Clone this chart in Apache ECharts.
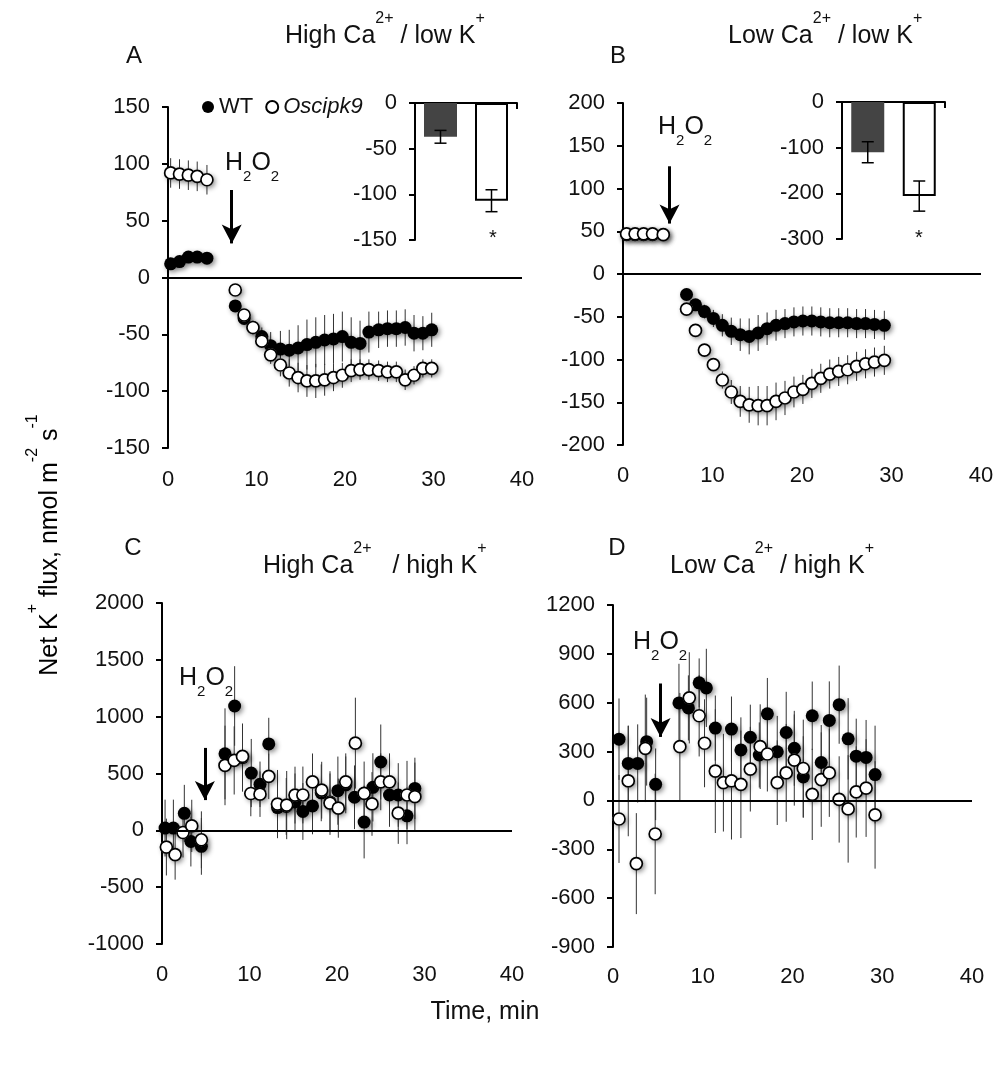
<!DOCTYPE html>
<html>
<head>
<meta charset="utf-8">
<script src="https://cdn.jsdelivr.net/npm/echarts@6/dist/echarts.min.js"></script>
<style>
  html, body { margin: 0; padding: 0; background: #fff; }
  #chart { width: 1008px; height: 1071px; }
</style>
</head>
<body>
<div id="chart"></div>
<script>
// panel A: high Ca2+ / low K+
const aTime = [0.3, 1.3, 2.3, 3.3, 4.4, 7.6, 8.6, 9.6, 10.6, 11.6, 12.7, 13.7, 14.7, 15.7, 16.7, 17.7, 18.7, 19.7, 20.7, 21.7, 22.7, 23.8, 24.8, 25.8, 26.8, 27.8, 28.8, 29.8]
const aWT = [12, 14, 18, 18, 17, -25, -36, -44, -52, -60, -63, -64, -62, -59, -57, -55, -54, -52, -57, -58, -48, -46, -45, -45, -44, -49, -49, -46]
const aWTErr = [4, 4, 4, 4, 4, 3, 4, 6, 8, 12, 16, 18, 20, 22, 22, 22, 22, 22, 22, 20, 18, 16, 16, 16, 16, 16, 15, 15]
const aMut = [92, 91, 90, 89, 86, -11, -33, -44, -56, -68, -77, -84, -88, -91, -91, -90, -88, -86, -82, -81, -81, -82, -83, -83, -90, -86, -80, -80]
const aMutErr = [13, 13, 13, 13, 13, 3, 4, 5, 6, 8, 10, 12, 13, 14, 15, 14, 12, 11, 10, 9, 9, 9, 9, 9, 9, 8, 8, 8]

// panel B: low Ca2+ / low K+
const bTime = [0.4, 1.35, 2.3, 3.3, 4.5, 7.1, 8.1, 9.1, 10.1, 11.1, 12.1, 13.1, 14.1, 15.1, 16.1, 17.1, 18.1, 19.1, 20.1, 21.1, 22.1, 23.1, 24.1, 25.1, 26.1, 27.1, 28.1, 29.2]
const bWT = [46, 46, 46, 46, 46, -24, -36, -44, -52, -60, -67, -71, -73, -69, -64, -60, -58, -56, -55, -55, -56, -57, -57, -57, -58, -58, -59, -60]
const bWTErr = [4, 4, 4, 4, 4, 4, 6, 8, 10, 13, 16, 19, 21, 21, 19, 18, 17, 17, 17, 17, 17, 17, 17, 17, 17, 17, 17, 17]
const bMut = [47, 47, 47, 47, 46, -41, -66, -89, -106, -124, -138, -149, -153, -154, -154, -149, -145, -138, -135, -128, -122, -117, -114, -112, -108, -105, -103, -101]
const bMutErr = [4, 4, 4, 4, 4, 3, 4, 5, 7, 10, 14, 18, 21, 23, 23, 22, 20, 18, 17, 17, 17, 17, 17, 17, 17, 17, 17, 17]

// panel C: high Ca2+ / high K+
const cTimeWT = [0.35, 1.3, 2.55, 3.3, 4.5, 7.2, 8.3, 9.2, 10.2, 11.2, 12.2, 13.2, 14.2, 15.2, 16.1, 17.2, 18.2, 19.2, 20.1, 21.0, 22.0, 23.1, 24.1, 25.0, 26.0, 27.0, 28.0, 28.9]
const cWT = [20, 20, 150, -98, -141, 673, 1094, 640, 504, 405, 760, 200, 210, 250, 166, 215, 330, 250, 349, 400, 291, 73, 378, 601, 311, 311, 128, 369]
const cWTErr = [250, 250, 250, 220, 250, 400, 350, 300, 300, 200, 230, 250, 250, 250, 250, 250, 250, 250, 300, 250, 280, 320, 300, 330, 280, 280, 250, 270]
const cTimeMut = [0.5, 1.5, 2.4, 3.4, 4.5, 7.2, 8.25, 9.2, 10.15, 11.2, 12.2, 13.2, 14.25, 15.2, 16.1, 17.2, 18.25, 19.2, 20.15, 21.0, 22.1, 23.1, 24.0, 25.0, 26.0, 27.0, 28.0, 28.9]
const cMut = [-147, -214, -19, 39, -83, 571, 615, 650, 324, 318, 475, 231, 222, 310, 311, 426, 353, 240, 195, 427, 767, 325, 232, 427, 427, 151, 311, 296]
const cMutErr = [250, 220, 220, 230, 250, 350, 300, 250, 200, 200, 200, 300, 300, 250, 250, 250, 250, 280, 260, 250, 400, 280, 280, 250, 250, 270, 300, 300]

// panel D: low Ca2+ / high K+
const dTimeWT = [0.67, 1.7, 2.75, 3.75, 4.75, 7.35, 8.4, 9.6, 10.4, 11.4, 13.2, 14.25, 15.3, 16.3, 17.2, 18.3, 19.3, 20.2, 21.2, 22.2, 23.2, 24.1, 25.2, 26.2, 27.1, 28.2, 29.2]
const dWT = [376, 227, 227, 361, 99, 599, 568, 722, 691, 444, 438, 310, 388, 279, 532, 299, 417, 320, 144, 520, 233, 491, 588, 378, 272, 264, 159]
const dWTErr = [250, 230, 240, 270, 220, 240, 200, 150, 240, 200, 200, 200, 200, 200, 220, 220, 250, 230, 250, 210, 230, 240, 240, 250, 230, 230, 300]
const dTimeMut = [0.67, 1.7, 2.6, 3.6, 4.7, 7.45, 8.5, 9.6, 10.2, 11.4, 12.3, 13.2, 14.25, 15.3, 16.4, 17.2, 18.3, 19.3, 20.2, 21.2, 22.2, 23.2, 24.1, 25.2, 26.2, 27.1, 28.2, 29.2]
const dMut = [-114, 120, -388, 320, -206, 330, 630, 520, 351, 180, 109, 120, 99, 192, 330, 285, 109, 169, 248, 196, 37, 128, 169, 6, -52, 52, 76, -89]
const dMutErr = [270, 340, 310, 330, 370, 330, 280, 250, 270, 380, 300, 360, 330, 260, 260, 230, 260, 300, 280, 300, 280, 290, 270, 265, 330, 280, 300, 330]

// inset bars (mean net flux after H2O2)
const insetCats = ['WT', 'Oscipk9']
const insetA = [-37, -107]
const insetAErr = [7, 12]
const insetB = [-110, -206]
const insetBErr = [23, 33]

const FONT = '"Liberation Sans", Arial, sans-serif'
const INK = '#111'

const chart = echarts.init(document.getElementById('chart'))

const supRich = {
  m: { fontSize: 25, lineHeight: 50, fontFamily: FONT, color: INK },
  s: { fontSize: 16, lineHeight: 16, verticalAlign: 'top', fontFamily: FONT, color: INK },
}
const subRich = {
  m: { fontSize: 25, lineHeight: 42, fontFamily: FONT, color: INK },
  s: { fontSize: 15, lineHeight: 14, verticalAlign: 'bottom', fontFamily: FONT, color: INK },
}

const pairs = (t, v) => t.map((x, i) => [x, v[i]])
const triples = (t, v, e) => t.map((x, i) => [x, v[i], e[i]])

const errBars = (idx, t, v, e) => ({
  type: 'custom',
  xAxisIndex: idx,
  yAxisIndex: idx,
  silent: true,
  z: 1,
  encode: { x: 0, y: 1 },
  data: triples(t, v, e),
  renderItem: (params, api) => {
    const x = api.value(0)
    const y = api.value(1)
    const d = api.value(2)
    const p1 = api.coord([x, y - d])
    const p2 = api.coord([x, y + d])
    return {
      type: 'line',
      shape: { x1: p1[0], y1: p1[1], x2: p2[0], y2: p2[1] },
      style: { stroke: '#333', lineWidth: 1 },
    }
  },
})

const shadow = { shadowBlur: 5, shadowColor: 'rgba(0,0,0,0.45)', shadowOffsetX: 2, shadowOffsetY: 2 }

const wtSeries = (idx, t, v, arrow) => ({
  type: 'scatter',
  name: 'WT',
  xAxisIndex: idx,
  yAxisIndex: idx,
  symbol: 'circle',
  symbolSize: 13,
  z: 3,
  itemStyle: { color: '#000', opacity: 1, ...shadow },
  data: pairs(t, v),
  markLine: {
    silent: true,
    symbol: ['none', 'none'],
    label: { show: false },
    lineStyle: { color: '#000', width: 2, type: 'solid' },
    data: [
      { yAxis: 0 },
      [
        { coord: [arrow[0], arrow[1]], symbol: 'none' },
        { coord: [arrow[0], arrow[2]], symbol: 'arrow', symbolSize: [15, 19], lineStyle: { width: 3 } },
      ],
    ],
  },
})

// soft drop shadow under the open circles, drawn as its own layer so the
// white fill of the markers stays clean
const mutShadow = (idx, t, v) => ({
  type: 'scatter',
  name: 'mutShadow' + idx,
  xAxisIndex: idx,
  yAxisIndex: idx,
  symbol: 'circle',
  symbolSize: 13,
  z: 3.5,
  silent: true,
  itemStyle: { color: '#fff', opacity: 1, ...shadow },
  data: pairs(t, v),
})

const mutSeries = (idx, t, v) => ({
  type: 'scatter',
  name: 'Oscipk9',
  xAxisIndex: idx,
  yAxisIndex: idx,
  symbol: 'circle',
  symbolSize: 12,
  z: 4,
  itemStyle: { color: '#fff', borderColor: '#000', borderWidth: 1.7, opacity: 1 },
  data: pairs(t, v),
})

const insetBars = (idx, vals) => ({
  type: 'bar',
  name: 'inset' + idx,
  xAxisIndex: idx,
  yAxisIndex: idx,
  barWidth: 33,
  silent: true,
  data: vals.map((v, i) => ({
    value: v,
    itemStyle: i === 0
      ? { color: '#444' }
      : { color: '#fff', borderColor: '#000', borderWidth: 2 },
  })),
})

const insetErr = (idx, vals, errs) => ({
  type: 'custom',
  xAxisIndex: idx,
  yAxisIndex: idx,
  silent: true,
  z: 5,
  data: vals.map((v, i) => [i, v, errs[i]]),
  renderItem: (params, api) => {
    const i = api.value(0)
    const y = api.value(1)
    const d = api.value(2)
    const top = api.coord([i, y + d])
    const bot = api.coord([i, y - d])
    const w = 6
    const st = { stroke: '#000', lineWidth: 1.5 }
    return {
      type: 'group',
      children: [
        { type: 'line', shape: { x1: top[0], y1: top[1], x2: bot[0], y2: bot[1] }, style: st },
        { type: 'line', shape: { x1: top[0] - w, y1: top[1], x2: top[0] + w, y2: top[1] }, style: st },
        { type: 'line', shape: { x1: bot[0] - w, y1: bot[1], x2: bot[0] + w, y2: bot[1] }, style: st },
      ],
    }
  },
})

const grids = [
  { left: 168, top: 107, width: 354, height: 341 },
  { left: 623, top: 103, width: 358, height: 342 },
  { left: 162, top: 603, width: 350, height: 341 },
  { left: 613, top: 605, width: 359, height: 342 },
  { left: 415, top: 103, width: 102, height: 137 },
  { left: 842, top: 102, width: 103, height: 137 },
]

const plain = v => String(v)

const labelMargins = [21, 20, 20, 19]
const timeAxes = labelMargins.map((m, i) => ({
  type: 'value',
  gridIndex: i,
  min: 0,
  max: 40,
  interval: 10,
  axisLine: { show: false },
  axisTick: { show: false },
  splitLine: { show: false },
  axisLabel: { fontSize: 22, fontFamily: FONT, color: INK, margin: m, formatter: plain },
}))

const yStyle = {
  type: 'value',
  axisLine: { show: true, onZero: false, lineStyle: { color: '#000', width: 2 } },
  axisTick: { show: true, length: 6, lineStyle: { color: '#000', width: 2 } },
  splitLine: { show: false },
  axisLabel: { fontSize: 22, fontFamily: FONT, color: INK, margin: 18, formatter: plain },
}

const fluxAxes = [
  { min: -150, max: 150, interval: 50 },
  { min: -200, max: 200, interval: 50 },
  { min: -1000, max: 2000, interval: 500 },
  { min: -900, max: 1200, interval: 300 },
  { min: -150, max: 0, interval: 50 },
  { min: -300, max: 0, interval: 100 },
].map((r, i) => ({ ...yStyle, ...r, gridIndex: i }))

const insetCatAxes = [4, 5].map(g => ({
  type: 'category',
  gridIndex: g,
  position: 'top',
  data: insetCats,
  axisLine: { show: true, lineStyle: { color: '#000', width: 2 } },
  axisTick: { show: true, inside: true, length: 6, lineStyle: { color: '#000', width: 2 } },
  axisLabel: { show: false },
  splitLine: { show: false },
}))

const txt = (x, y, text, extra) => ({
  type: 'text',
  x,
  y,
  silent: true,
  style: { text, fill: INK, font: '24px ' + FONT, align: 'center', verticalAlign: 'middle', ...extra },
})

const option = {
  animation: false,
  backgroundColor: '#fff',
  grid: grids.map(g => ({ ...g, outerBoundsMode: 'none' })),
  xAxis: [...timeAxes, ...insetCatAxes],
  yAxis: fluxAxes,
  legend: {
    data: ['WT', 'Oscipk9'],
    left: 197,
    top: 91,
    icon: 'circle',
    itemWidth: 12,
    itemHeight: 12,
    itemGap: 12,
    selectedMode: false,
    textStyle: {
      fontSize: 22,
      fontFamily: FONT,
      color: INK,
      rich: { i: { fontSize: 22, fontFamily: FONT, fontStyle: 'italic', color: INK } },
    },
    formatter: n => (n === 'Oscipk9' ? '{i|Oscipk9}' : n),
  },
  series: [
    errBars(0, aTime, aWT, aWTErr),
    errBars(0, aTime, aMut, aMutErr),
    wtSeries(0, aTime, aWT, [7.2, 77, 30]),
    mutShadow(0, aTime, aMut),
    mutSeries(0, aTime, aMut),

    errBars(1, bTime, bWT, bWTErr),
    errBars(1, bTime, bMut, bMutErr),
    wtSeries(1, bTime, bWT, [5.2, 126, 59]),
    mutShadow(1, bTime, bMut),
    mutSeries(1, bTime, bMut),

    errBars(2, cTimeWT, cWT, cWTErr),
    errBars(2, cTimeMut, cMut, cMutErr),
    wtSeries(2, cTimeWT, cWT, [4.9, 725, 266]),
    mutShadow(2, cTimeMut, cMut),
    mutSeries(2, cTimeMut, cMut),

    errBars(3, dTimeWT, dWT, dWTErr),
    errBars(3, dTimeMut, dMut, dMutErr),
    wtSeries(3, dTimeWT, dWT, [5.3, 718, 390]),
    mutShadow(3, dTimeMut, dMut),
    mutSeries(3, dTimeMut, dMut),

    insetBars(4, insetA),
    insetErr(4, insetA, insetAErr),
    insetBars(5, insetB),
    insetErr(5, insetB, insetBErr),
  ],
  graphic: [
    txt(134, 56, 'A'),
    txt(618, 56, 'B'),
    txt(133, 548, 'C'),
    txt(617, 548, 'D'),
    txt(285, 36, '{m|High Ca}{s|2+}{m| / low K}{s|+}', { rich: supRich, align: 'left' }),
    txt(728, 36, '{m|Low Ca}{s|2+}{m| / low K}{s|+}', { rich: supRich, align: 'left' }),
    txt(263, 566, '{m|High Ca}{s|2+}{m|   / high K}{s|+}', { rich: supRich, align: 'left' }),
    txt(670, 566, '{m|Low Ca}{s|2+}{m| / high K}{s|+}', { rich: supRich, align: 'left' }),
    txt(225, 163, '{m|H}{s|2}{m|O}{s|2}', { rich: subRich, align: 'left' }),
    txt(658, 127, '{m|H}{s|2}{m|O}{s|2}', { rich: subRich, align: 'left' }),
    txt(179, 678, '{m|H}{s|2}{m|O}{s|2}', { rich: subRich, align: 'left' }),
    txt(633, 642, '{m|H}{s|2}{m|O}{s|2}', { rich: subRich, align: 'left' }),
    txt(493, 238, '*', { font: '20px ' + FONT }),
    txt(919, 238, '*', { font: '20px ' + FONT }),
    {
      type: 'text',
      x: 50,
      y: 545,
      rotation: Math.PI / 2,
      silent: true,
      style: {
        text: '{m|Net K}{s|+}{m| flux, nmol m}{s|-2}{m| s}{s|-1}',
        rich: supRich,
        align: 'center',
        verticalAlign: 'middle',
      },
    },
    txt(485, 1012, 'Time, min', { font: '25px ' + FONT }),
  ],
}

chart.setOption(option)
</script>
</body>
</html>
